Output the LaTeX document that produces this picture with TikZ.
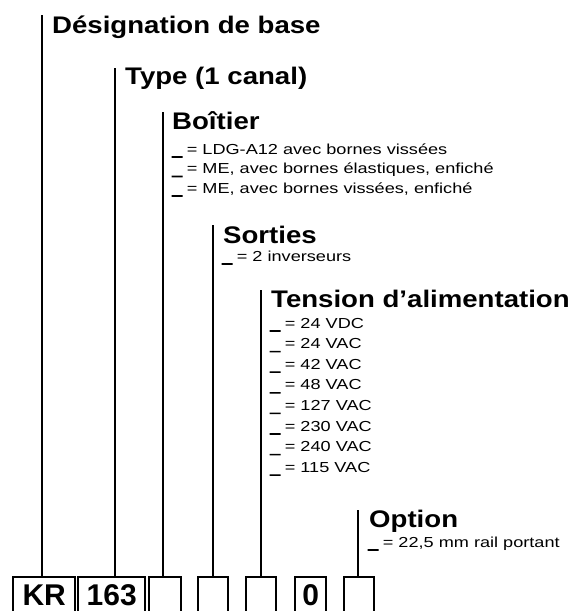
\documentclass[tikz,border=0pt]{standalone}
\usepackage{fontspec}
\usepackage{tikz}
\setmainfont{Liberation Sans}
\newfontfamily\headfont[FakeStretch=1.15]{Liberation Sans}
\newfontfamily\itemfont[FakeStretch=1.25]{Liberation Sans}
\newfontfamily\blankfont[FakeStretch=1.2, FakeBold=7]{Liberation Sans}
\newcommand\optline[1]{\raisebox{-1.5pt}{\blankfont\bfseries\_}\hspace{5pt}= #1}

\begin{document}
\begin{tikzpicture}[
                x = 1pt, y = -1pt,
                title/.style={ anchor = base west, inner sep = 0pt, font = \headfont\fontsize{24}{24}\selectfont\bfseries },
                choice/.style={ anchor = base west, inner sep = 0pt, font = \itemfont\fontsize{14.5}{14.5}\selectfont },
                field/.style={ draw, line width = 2.4pt, anchor = north west, minimum height = 38pt, inner sep = 0pt,
                               text height = 24pt, text depth = 6pt, font = \fontsize{30}{30}\selectfont\bfseries },
                bar/.style={ line width = 2.3pt }
            ]
            \clip (0, 0) rectangle (575, 611);

            % order code fields
            \node (kr)      [field, minimum width = 62pt] at (12, 576)  {KR};
            \node (num)     [field, minimum width = 67pt] at (77, 576)  {163};
            \node (housing) [field, minimum width = 32pt] at (148, 576) {};
            \node (outputs) [field, minimum width = 30pt] at (197, 576) {};
            \node (supply)  [field, minimum width = 30pt] at (245, 576) {};
            \node (zero)    [field, minimum width = 31pt] at (294, 576) {0};
            \node (option)  [field, minimum width = 30pt] at (343, 576) {};

            % headings
            \node (base)  [title] at (52, 33)   {Désignation de base};
            \node (type)  [title] at (125, 84)  {Type (1 canal)};
            \node (case)  [title] at (172, 129) {Boîtier};
            \node (out)   [title] at (223, 243) {Sorties};
            \node (volt)  [title] at (271, 307) {Tension d’alimentation};
            \node (opt)   [title] at (369, 527) {Option};

            % choices (baseline of the text)
            \node (c1) [choice] at (172, 154)   {\optline{LDG-A12 avec bornes vissées}};
            \node (c2) [choice] at (172, 173.5) {\optline{ME, avec bornes élastiques, enfiché}};
            \node (c3) [choice] at (172, 193)   {\optline{ME, avec bornes vissées, enfiché}};

            \node (o1) [choice] at (222, 261) {\optline{2 inverseurs}};

            \node (v1) [choice] at (270, 328)   {\optline{24 VDC}};
            \node (v2) [choice] at (270, 348.6) {\optline{24 VAC}};
            \node (v3) [choice] at (270, 369.2) {\optline{42 VAC}};
            \node (v4) [choice] at (270, 389.8) {\optline{48 VAC}};
            \node (v5) [choice] at (270, 410.4) {\optline{127 VAC}};
            \node (v6) [choice] at (270, 431)   {\optline{230 VAC}};
            \node (v7) [choice] at (270, 451.6) {\optline{240 VAC}};
            \node (v8) [choice] at (270, 472.2) {\optline{115 VAC}};

            \node (p1) [choice] at (368, 547) {\optline{22,5 mm rail portant}};

            % leader bars from heading down to field
            \coordinate (t1) at (42, 15);
            \coordinate (t2) at (115, 68);
            \coordinate (t3) at (163, 112);
            \coordinate (t4) at (213, 225);
            \coordinate (t5) at (261, 290);
            \coordinate (t7) at (358, 510);
            \draw [bar] (t1) -- (t1 |- kr.north);
            \draw [bar] (t2) -- (t2 |- num.north);
            \draw [bar] (t3) -- (t3 |- housing.north);
            \draw [bar] (t4) -- (t4 |- outputs.north);
            \draw [bar] (t5) -- (t5 |- supply.north);
            \draw [bar] (t7) -- (t7 |- option.north);
        \end{tikzpicture}
\end{document}
